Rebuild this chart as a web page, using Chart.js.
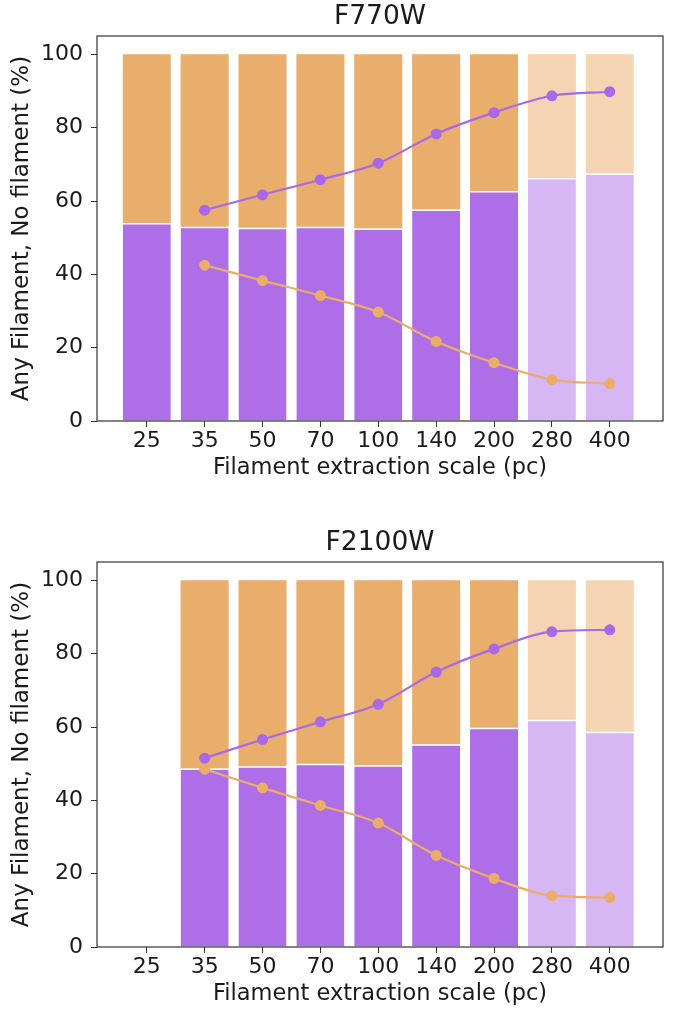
<!DOCTYPE html>
<html>
<head>
<meta charset="utf-8">
<script src="https://cdn.jsdelivr.net/npm/chart.js@4.4.1/dist/chart.umd.min.js"></script>
<style>
  body { margin: 0; background: #fff; width: 673px; height: 1009px; position: relative; overflow: hidden; }
  .panel { position: absolute; left: 0; width: 673px; height: 483px; }
</style>
</head>
<body>
<div class="panel" style="top:0"><canvas id="f770w"></canvas></div>
<div class="panel" style="top:526px"><canvas id="f2100w"></canvas></div>
<script>
var scaleLabels = ['25', '35', '50', '70', '100', '140', '200', '280', '400'];
var faded = [false, false, false, false, false, false, false, true, true];
var yTicks = [0, 20, 40, 60, 80, 100];

// share with any filament (purple part of each bar), in %
var f770wAny  = [54.0, 53.0, 52.7, 53.0, 52.5, 57.7, 62.7, 66.3, 67.5];
var f2100wAny = [null, 48.7, 49.3, 50.0, 49.6, 55.3, 59.8, 62.0, 58.7];

// the two lines with markers
var f770wPurpleLine  = [null, 57.5, 61.7, 65.8, 70.3, 78.3, 84.1, 88.7, 89.8];
var f770wOrangeLine  = [null, 42.5, 38.3, 34.2, 29.7, 21.7, 15.9, 11.3, 10.2];
var f2100wPurpleLine = [null, 51.5, 56.6, 61.4, 66.2, 75.0, 81.3, 86.0, 86.5];
var f2100wOrangeLine = [null, 48.5, 43.4, 38.6, 33.8, 25.0, 18.7, 14.0, 13.5];

(function() {

  var colours = {
    purple: '#ad6ee8',
    purpleLight: '#d7b6f4',
    orange: '#e9ad6c',
    orangeLight: '#f4d4b2',
    purpleLine: '#a868e8',
    orangeLine: '#ebad68',
    axis: '#333333',
    text: '#1a1a1a'
  };

  var font = 'DejaVu Sans';

  // matplotlib style box round the plot area
  var framePlugin = {
    id: 'frame',
    afterDraw: function(chart) {
      var a = chart.chartArea, ctx = chart.ctx;
      ctx.save();
      ctx.strokeStyle = colours.axis;
      ctx.lineWidth = 1.2;
      ctx.strokeRect(a.left, a.top, a.right - a.left, a.bottom - a.top);
      ctx.restore();
    }
  };

  function toPoints(values) {
    var pts = [];
    values.forEach(function(v, i) {
      if (v !== null) pts.push({x: i, y: v});
    });
    return pts;
  }

  function makeChart(id, title, anyShare, purpleLine, orangeLine) {
    var noneShare = anyShare.map(function(v) { return v === null ? null : 100 - v; });
    var anyPts = toPoints(anyShare);
    var nonePts = toPoints(noneShare);

    new Chart(document.getElementById(id), {
      type: 'bar',
      plugins: [framePlugin],
      data: {
        datasets: [
          {
            type: 'line', label: 'any line', stack: 'l1', order: 0,
            data: toPoints(purpleLine),
            borderColor: colours.purpleLine, backgroundColor: colours.purpleLine,
            borderWidth: 2.2, pointRadius: 5.5, pointBorderWidth: 0,
            cubicInterpolationMode: 'monotone'
          },
          {
            type: 'line', label: 'none line', stack: 'l2', order: 0,
            data: toPoints(orangeLine),
            borderColor: colours.orangeLine, backgroundColor: colours.orangeLine,
            borderWidth: 2.2, pointRadius: 5.5, pointBorderWidth: 0,
            cubicInterpolationMode: 'monotone'
          },
          {
            label: 'Any filament', stack: 'bars', order: 1,
            data: anyPts,
            backgroundColor: anyPts.map(function(p) { return faded[p.x] ? colours.purpleLight : colours.purple; }),
            borderColor: '#ffffff',
            borderWidth: {top: 1.5, left: 0, right: 0, bottom: 0},
            borderSkipped: false,
            barPercentage: 0.83, categoryPercentage: 1
          },
          {
            label: 'No filament', stack: 'bars', order: 1,
            data: nonePts,
            backgroundColor: nonePts.map(function(p) { return faded[p.x] ? colours.orangeLight : colours.orange; }),
            borderWidth: 0,
            barPercentage: 0.83, categoryPercentage: 1
          }
        ]
      },
      options: {
        responsive: true,
        maintainAspectRatio: false,
        animation: false,
        layout: {padding: {top: 0, right: 10, bottom: 0, left: 8}},
        plugins: {
          legend: {display: false},
          tooltip: {enabled: false},
          title: {
            display: true, text: title, color: colours.text, fullSize: false,
            font: {family: font, size: 26.5, weight: 'normal'},
            padding: {top: 1.6, bottom: 2.6}
          }
        },
        scales: {
          x: {
            type: 'linear', stacked: true, offset: false,
            min: -0.86, max: 8.92,
            afterBuildTicks: function(axis) {
              axis.ticks = scaleLabels.map(function(l, i) { return {value: i}; });
            },
            afterFit: function(axis) { axis.height = 62; },
            ticks: {
              color: colours.text, padding: 1, maxRotation: 0, autoSkip: false,
              font: {family: font, size: 22},
              callback: function(v) { return scaleLabels[v]; }
            },
            grid: {display: true, offset: false, drawOnChartArea: false, drawTicks: true, tickLength: 6, tickColor: colours.axis},
            border: {display: false},
            title: {
              display: true, text: 'Filament extraction scale (pc)', color: colours.text,
              font: {family: font, size: 22.5}, padding: {top: 0, bottom: 1.5}
            }
          },
          y: {
            stacked: true,
            min: 0, max: 105,
            afterBuildTicks: function(axis) {
              axis.ticks = yTicks.map(function(v) { return {value: v}; });
            },
            afterFit: function(axis) { axis.width = 89; },
            ticks: {color: colours.text, padding: 8, font: {family: font, size: 22}},
            grid: {display: true, drawOnChartArea: false, drawTicks: true, tickLength: 6, tickColor: colours.axis},
            border: {display: false},
            title: {
              display: true, text: 'Any Filament, No filament (%)', color: colours.text,
              font: {family: font, size: 23}, padding: {top: 0, bottom: 5}
            }
          }
        }
      }
    });
  }

  makeChart('f770w', 'F770W', f770wAny, f770wPurpleLine, f770wOrangeLine);
  makeChart('f2100w', 'F2100W', f2100wAny, f2100wPurpleLine, f2100wOrangeLine);

}());
</script>
</body>
</html>
